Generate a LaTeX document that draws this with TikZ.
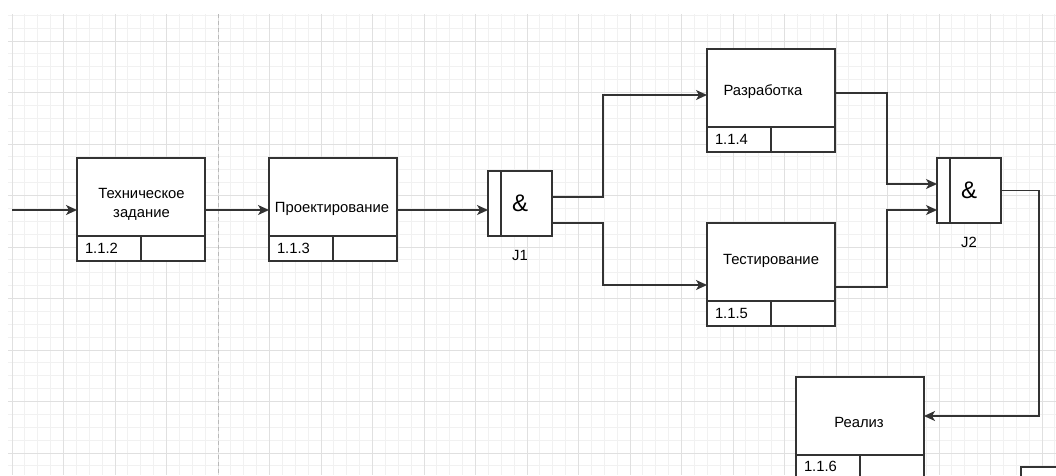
\documentclass[tikz,border=0pt]{standalone}
\usepackage{fontspec}
\setmainfont{Liberation Sans}
\usetikzlibrary{arrows.meta,positioning}

\newcommand{\tekstshrift}{\fontsize{14.8}{19}\selectfont}

\begin{document}
\begin{tikzpicture}[
    x=1pt, y=-1pt,
    >={Stealth[length=11pt,width=10pt,inset=3pt]},
    setka/.style={gray!11, line width=0.8pt},
    setkamaj/.style={gray!24, line width=0.8pt},
    rabota/.style={rectangle, draw=black!80, line width=1.6pt, fill=white, minimum width=128pt, minimum height=78pt, inner sep=0pt, outer sep=0pt, anchor=north west},
    nomer/.style={rectangle, draw=black!80, line width=1.6pt, fill=white, minimum height=25pt, inner xsep=8pt, inner ysep=0pt, outer sep=0pt, text width=48pt, align=left, anchor=north west, font=\tekstshrift},
    pusto/.style={rectangle, draw=black!80, line width=1.6pt, fill=white, minimum width=64pt, minimum height=25pt, inner sep=0pt, outer sep=0pt, anchor=north west},
    uzel/.style={rectangle, draw=black!80, line width=1.6pt, fill=white, minimum width=64pt, minimum height=65pt, inner sep=0pt, outer sep=0pt, anchor=north west, font=\fontsize{24}{28}\selectfont},
    nadpis/.style={font=\tekstshrift, align=center, inner sep=0pt},
    strelka/.style={->, line width=1.5pt, draw=black!80},
]
\useasboundingbox (0,0) rectangle (1056,475);
\clip (0,0) rectangle (1056,475);
\fill[white] (0,0) rectangle (1056,475);
% ---------- setka ----------
\foreach \i in {0,...,81} \draw[setka] ({12+12.875*\i},14) -- ++(0,461);
\foreach \j in {0,...,35} \draw[setka] (8,{15.25+12.875*\j}) -- ++(1048,0);
\foreach \i in {0,...,20} \draw[setkamaj] ({12+51.5*\i},14) -- ++(0,461);
\foreach \j in {0,...,8} \draw[setkamaj] (8,{41+51.5*\j}) -- ++(1048,0);
\draw[gray!55, line width=0.9pt, dash pattern=on 4pt off 3pt] (218,14) -- (218,475);
% ---------- raboty ----------
\node[rabota] (tz) at (77,158) {};
\node[nomer]  (tzn) at (tz.south west) {1.1.2};
\node[pusto]  (tzp) at (tzn.north east) {};
\node[nadpis] (tzt) at (141.5,204) {Техническое\\задание};

\node[rabota] (pr) at (269,158) {};
\node[nomer]  (prn) at (pr.south west) {1.1.3};
\node[pusto]  (prp) at (prn.north east) {};
\node[nadpis] (prt) at (332,209) {Проектирование};

\node[rabota] (rz) at (707,49) {};
\node[nomer]  (rzn) at (rz.south west) {1.1.4};
\node[pusto]  (rzp) at (rzn.north east) {};
\node[nadpis] (rzt) at (763,92) {Разработка};

\node[rabota] (ts) at (707,223) {};
\node[nomer]  (tsn) at (ts.south west) {1.1.5};
\node[pusto]  (tsp) at (tsn.north east) {};
\node[nadpis] (tst) at (771,261) {Тестирование};

\node[rabota] (rl) at (796,377) {};
\node[nomer]  (rln) at (rl.south west) {\raisebox{1.5pt}{1.1.6}};
\node[pusto]  (rlp) at (rln.north east) {};
\node[nadpis] (rlt) at (859,422) {Реализ};

\node[rabota] (sl) at (1021,467) {};
% ---------- perekrestki ----------
\node[uzel] (j1) at (488,171) {\&};
\draw[black!80, line width=1.6pt] ([xshift=13pt]j1.north west) -- ([xshift=13pt]j1.south west);
\node[nadpis] (j1t) at (520,255) {J1};

\node[uzel] (j2) at (937,158) {\&};
\draw[black!80, line width=1.6pt] ([xshift=13pt]j2.north west) -- ([xshift=13pt]j2.south west);
\node[nadpis] (j2t) at (969,242) {J2};
% ---------- strelki ----------
\coordinate (vhod) at (12,210);
\draw[strelka] (vhod) -- ([yshift=-13pt]tz.west);
\draw[strelka] ([yshift=-13pt]tz.east) -- ([yshift=-13pt]pr.west);
\draw[strelka] ([yshift=-13pt]pr.east) -- ([yshift=-6.5pt]j1.west);
\draw[strelka] ([yshift=6.5pt]j1.east) -- ++(51,0) |- ([yshift=-7pt]rz.west);
\draw[strelka] ([yshift=-19.5pt]j1.east) -- ++(51,0) |- ([yshift=-23pt]ts.west);
\draw[strelka] ([yshift=-5pt]rz.east) -- ++(52,0) |- ([yshift=6.5pt]j2.west);
\draw[strelka] ([yshift=-25pt]ts.east) -- ++(52,0) |- ([yshift=-19.5pt]j2.west);
\draw[strelka] (j2.east) -- ++(38,0) |- (rl.east);
\end{tikzpicture}
\end{document}
